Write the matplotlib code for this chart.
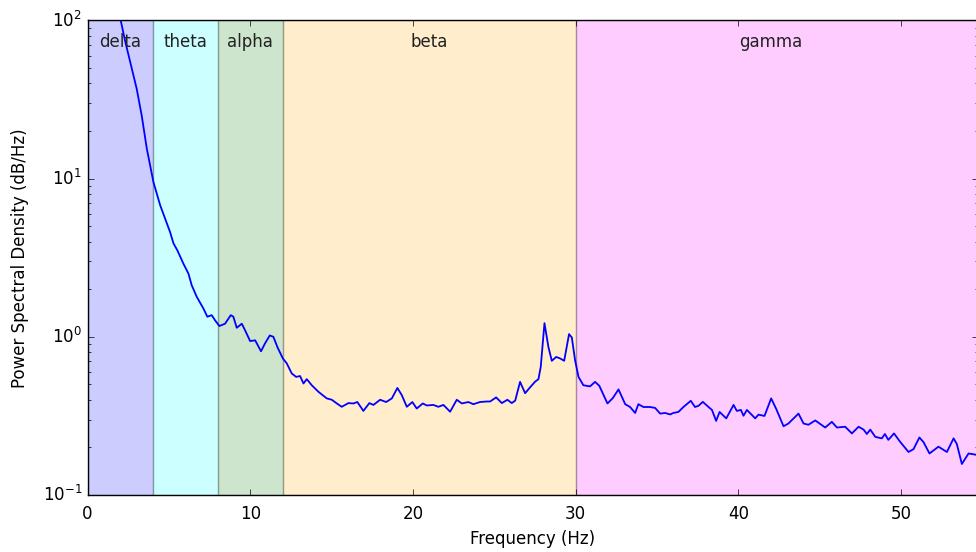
import numpy as np
import matplotlib.pyplot as plt

plt.style.use('classic')
plt.rcParams['axes.unicode_minus'] = False

# PSD estimate (frequency in Hz, power)
freqs = [1.5, 2.04, 2.30, 2.72, 3.02, 3.33, 3.64, 4.05, 4.46, 4.76, 5.07, 5.28, 5.52, 5.89,
         6.2, 6.4, 6.71, 7.12, 7.36, 7.63, 7.84, 8.1, 8.45, 8.8, 8.96, 9.17, 9.48, 9.68,
         9.99, 10.3, 10.66, 10.91, 11.2, 11.42, 11.67, 12.0, 12.24, 12.55, 12.82, 13.06,
         13.27, 13.47, 13.78, 14.19, 14.7, 15.01, 15.32, 15.62, 16.03, 16.34, 16.58, 16.95,
         17.32, 17.57, 17.98, 18.35, 18.7, 19.04, 19.31, 19.62, 19.96, 20.23, 20.6, 20.85,
         21.25, 21.56, 21.87, 22.28, 22.69, 23.0, 23.4, 23.71, 24.12, 24.54, 24.74, 25.11,
         25.46, 25.8, 26.07, 26.28, 26.58, 26.89, 27.2, 27.5, 27.71, 27.85, 28.08, 28.32,
         28.53, 28.8, 29.04, 29.29, 29.59, 29.76, 29.96, 30.17, 30.47, 30.88, 31.19, 31.45,
         31.95, 32.28, 32.63, 33.04, 33.34, 33.65, 33.85, 34.16, 34.57, 34.88, 35.19, 35.49,
         35.8, 36.0, 36.31, 36.62, 37.07, 37.33, 37.54, 37.81, 38.16, 38.37, 38.63, 38.84,
         39.25, 39.7, 39.9, 40.15, 40.31, 40.52, 41.03, 41.23, 41.6, 42.01, 42.32, 42.77,
         43.07, 43.69, 44.0, 44.3, 44.72, 45.33, 45.74, 46.05, 46.56, 46.97, 47.38, 47.69,
         47.89, 48.1, 48.41, 48.81, 49.0, 49.21, 49.56, 49.92, 50.45, 50.76, 51.12, 51.37,
         51.74, 52.29, 52.81, 53.22, 53.42, 53.73, 54.14, 54.55, 55.0]
psd = [170, 100, 74.8, 49.5, 37, 25, 15.5, 9.5, 6.8, 5.6, 4.6, 3.9, 3.52, 2.90,
       2.51, 2.12, 1.79, 1.51, 1.34, 1.37, 1.27, 1.17, 1.21, 1.37, 1.34, 1.14, 1.21, 1.10,
       0.94, 0.95, 0.81, 0.91, 1.02, 1.0, 0.86, 0.73, 0.68, 0.586, 0.558, 0.565,
       0.507, 0.54, 0.494, 0.449, 0.408, 0.40, 0.379, 0.361, 0.381, 0.379, 0.387, 0.34,
       0.381, 0.371, 0.40, 0.387, 0.408, 0.475, 0.428, 0.361, 0.387, 0.352, 0.379, 0.368,
       0.371, 0.361, 0.371, 0.336, 0.40, 0.379, 0.387, 0.375, 0.387, 0.39, 0.39, 0.414,
       0.381, 0.40, 0.381, 0.395, 0.519, 0.44, 0.48, 0.52, 0.54, 0.646, 1.22, 0.863,
       0.705, 0.746, 0.73, 0.705, 1.04, 0.99, 0.711, 0.558, 0.494, 0.486, 0.519, 0.49,
       0.379, 0.41, 0.465, 0.375, 0.36, 0.33, 0.375, 0.36, 0.36, 0.355, 0.327, 0.33,
       0.323, 0.33, 0.335, 0.36, 0.394, 0.36, 0.366, 0.388, 0.36, 0.345, 0.294, 0.335,
       0.305, 0.371, 0.34, 0.345, 0.317, 0.345, 0.305, 0.322, 0.316, 0.408, 0.35, 0.272,
       0.283, 0.327, 0.283, 0.278, 0.296, 0.267, 0.29, 0.267, 0.27, 0.245, 0.27, 0.259,
       0.243, 0.259, 0.233, 0.228, 0.243, 0.223, 0.245, 0.218, 0.187, 0.195, 0.231, 0.216,
       0.183, 0.202, 0.187, 0.228, 0.21, 0.157, 0.183, 0.18, 0.175]

# EEG frequency bands
band_names = ['delta', 'theta', 'alpha', 'beta', 'gamma']
band_lo = [0, 4, 8, 12, 30]
band_hi = [4, 8, 12, 30, 100]
band_colors = ['blue', 'cyan', 'g', 'orange', 'magenta']
label_x = [2, 6, 10, 21, 42]

fig = plt.figure(figsize=(9.76, 5.52), dpi=100, facecolor='white')
ax = fig.add_axes([0.0897, 0.1033, 0.912, 0.8596])
ax.set_facecolor('white')

for name, lo, hi, c, lx in zip(band_names, band_lo, band_hi, band_colors, label_x):
    ax.axvspan(lo, hi, facecolor=c, edgecolor='k', alpha=0.2, linewidth=1)
    ax.text(lx, 73, name, ha='center', va='center', fontsize=12, color='#222222')

ax.semilogy(freqs, psd, color='blue', linewidth=1.3)

ax.set_xlim(0, 54.7)
ax.set_ylim(0.1, 100)
ax.tick_params(axis='x', pad=7)
ax.set_xlabel('Frequency (Hz)', fontsize=12, labelpad=5)
ax.set_ylabel('Power Spectral Density (dB/Hz)', fontsize=12, labelpad=10)

plt.savefig('out.png', dpi=100, facecolor='white')
